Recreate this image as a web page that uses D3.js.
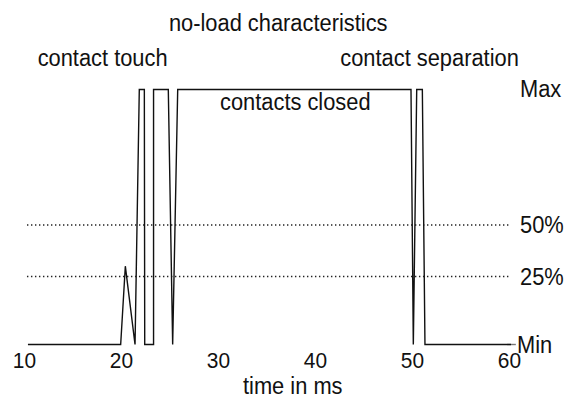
<!DOCTYPE html>
<html>
<head>
<meta charset="utf-8">
<script src="https://cdn.jsdelivr.net/npm/d3@7"></script>
<style>
  html, body { margin: 0; padding: 0; background: #fff; }
  svg text { font-family: "Liberation Sans", Arial, sans-serif; fill: #111; }
</style>
</head>
<body>
<svg id="chart" width="565" height="398"></svg>
<script>
// Contact signal over time (ms), level in percent of Max
const times  = [10.2, 19.76, 20.24, 21.24, 21.68, 22.2, 22.24, 23.15, 23.15, 24.67, 25.12, 25.64, 49.69, 49.93, 50.28, 50.86, 51.13, 60];
const levels = [0,    0,     30,    0,     100,   100,  0,     0,     100,   100,   0,     100,   100,   0,     100,   100,   0,     0];

// Reference levels with their labels
const refLevels = [25, 50];
const refLabels = ["25%", "50%"];
const endLevels = [100, 0];
const endLabels = ["Max", "Min"];

// Time axis ticks
const tickValues = [10, 20, 30, 40, 50, 60];

// Annotations
const title = "no-load characteristics";
const notes = [
  {text: "contact touch", t: 11.2, y: 66},
  {text: "contact separation", t: 42.4, y: 66},
  {text: "contacts closed", t: 30.0, y: 110}
];
const xTitle = "time in ms";

const FS = 23;          // label font size
const NARROW = 0.95;    // horizontal condensing of the labels

const svg = d3.select("#chart");

const x = d3.scaleLinear().domain([10, 60]).range([26, 511]);
// schematic level axis: piecewise so the reference lines sit where drawn
const y = d3.scaleLinear().domain([0, 25, 50, 100]).range([344.5, 276.5, 225, 89.5]);

// condense a text selection horizontally, keeping its anchor
function condense(sel) {
  sel.each(function () {
    const w = this.getComputedTextLength();
    d3.select(this)
      .attr("textLength", w * NARROW)
      .attr("lengthAdjust", "spacingAndGlyphs");
  });
}

// dotted reference lines
svg.selectAll("line.ref")
  .data(refLevels)
  .join("line")
  .attr("class", "ref")
  .attr("x1", x(10.1)).attr("x2", x(59.9))
  .attr("y1", d => y(d)).attr("y2", d => y(d))
  .attr("stroke", "#222")
  .attr("stroke-width", 1.4)
  .attr("stroke-dasharray", "1.4,2.6");

svg.selectAll("text.reflab")
  .data(refLevels)
  .join("text")
  .attr("class", "reflab")
  .attr("x", 520)
  .attr("y", d => y(d) + 8)
  .attr("font-size", FS)
  .text((d, i) => refLabels[i])
  .call(condense);

svg.selectAll("text.endlab")
  .data(endLevels)
  .join("text")
  .attr("class", "endlab")
  .attr("x", (d, i) => i === 0 ? 520 : 517)
  .attr("y", d => d === 100 ? y(d) + 7 : y(d) + 8)
  .attr("font-size", FS)
  .text((d, i) => endLabels[i])
  .call(condense);

// short grey lead-in to the Min label
svg.append("line")
  .attr("x1", x(59.6)).attr("x2", x(60.5))
  .attr("y1", y(0)).attr("y2", y(0))
  .attr("stroke", "#777").attr("stroke-width", 1.4);

// waveform
const line = d3.line()
  .x((d, i) => x(times[i]))
  .y((d, i) => y(levels[i]));

svg.append("path")
  .datum(times)
  .attr("d", line)
  .attr("fill", "none")
  .attr("stroke", "#111")
  .attr("stroke-width", 1.4)
  .attr("stroke-linejoin", "miter");

// time axis labels
const xAxis = d3.axisBottom(x).tickValues(tickValues).tickSize(0).tickFormat(d3.format("d"));
const gx = svg.append("g").attr("transform", `translate(-2,${y(0) + 5})`).call(xAxis);
gx.select(".domain").remove();
gx.selectAll("text")
  .attr("font-size", 22)
  .attr("font-family", "Liberation Sans, Arial, sans-serif")
  .attr("fill", "#111")
  .call(condense);

svg.append("text")
  .attr("x", x(37.5)).attr("y", 394)
  .attr("text-anchor", "middle")
  .attr("font-size", FS)
  .text(xTitle)
  .call(condense);

svg.append("text")
  .attr("x", x(36.0)).attr("y", 31)
  .attr("text-anchor", "middle")
  .attr("font-size", FS)
  .text(title)
  .call(condense);

svg.selectAll("text.note")
  .data(notes)
  .join("text")
  .attr("class", "note")
  .attr("x", d => x(d.t))
  .attr("y", d => d.y)
  .attr("font-size", FS)
  .text(d => d.text)
  .call(condense);
</script>
</body>
</html>
